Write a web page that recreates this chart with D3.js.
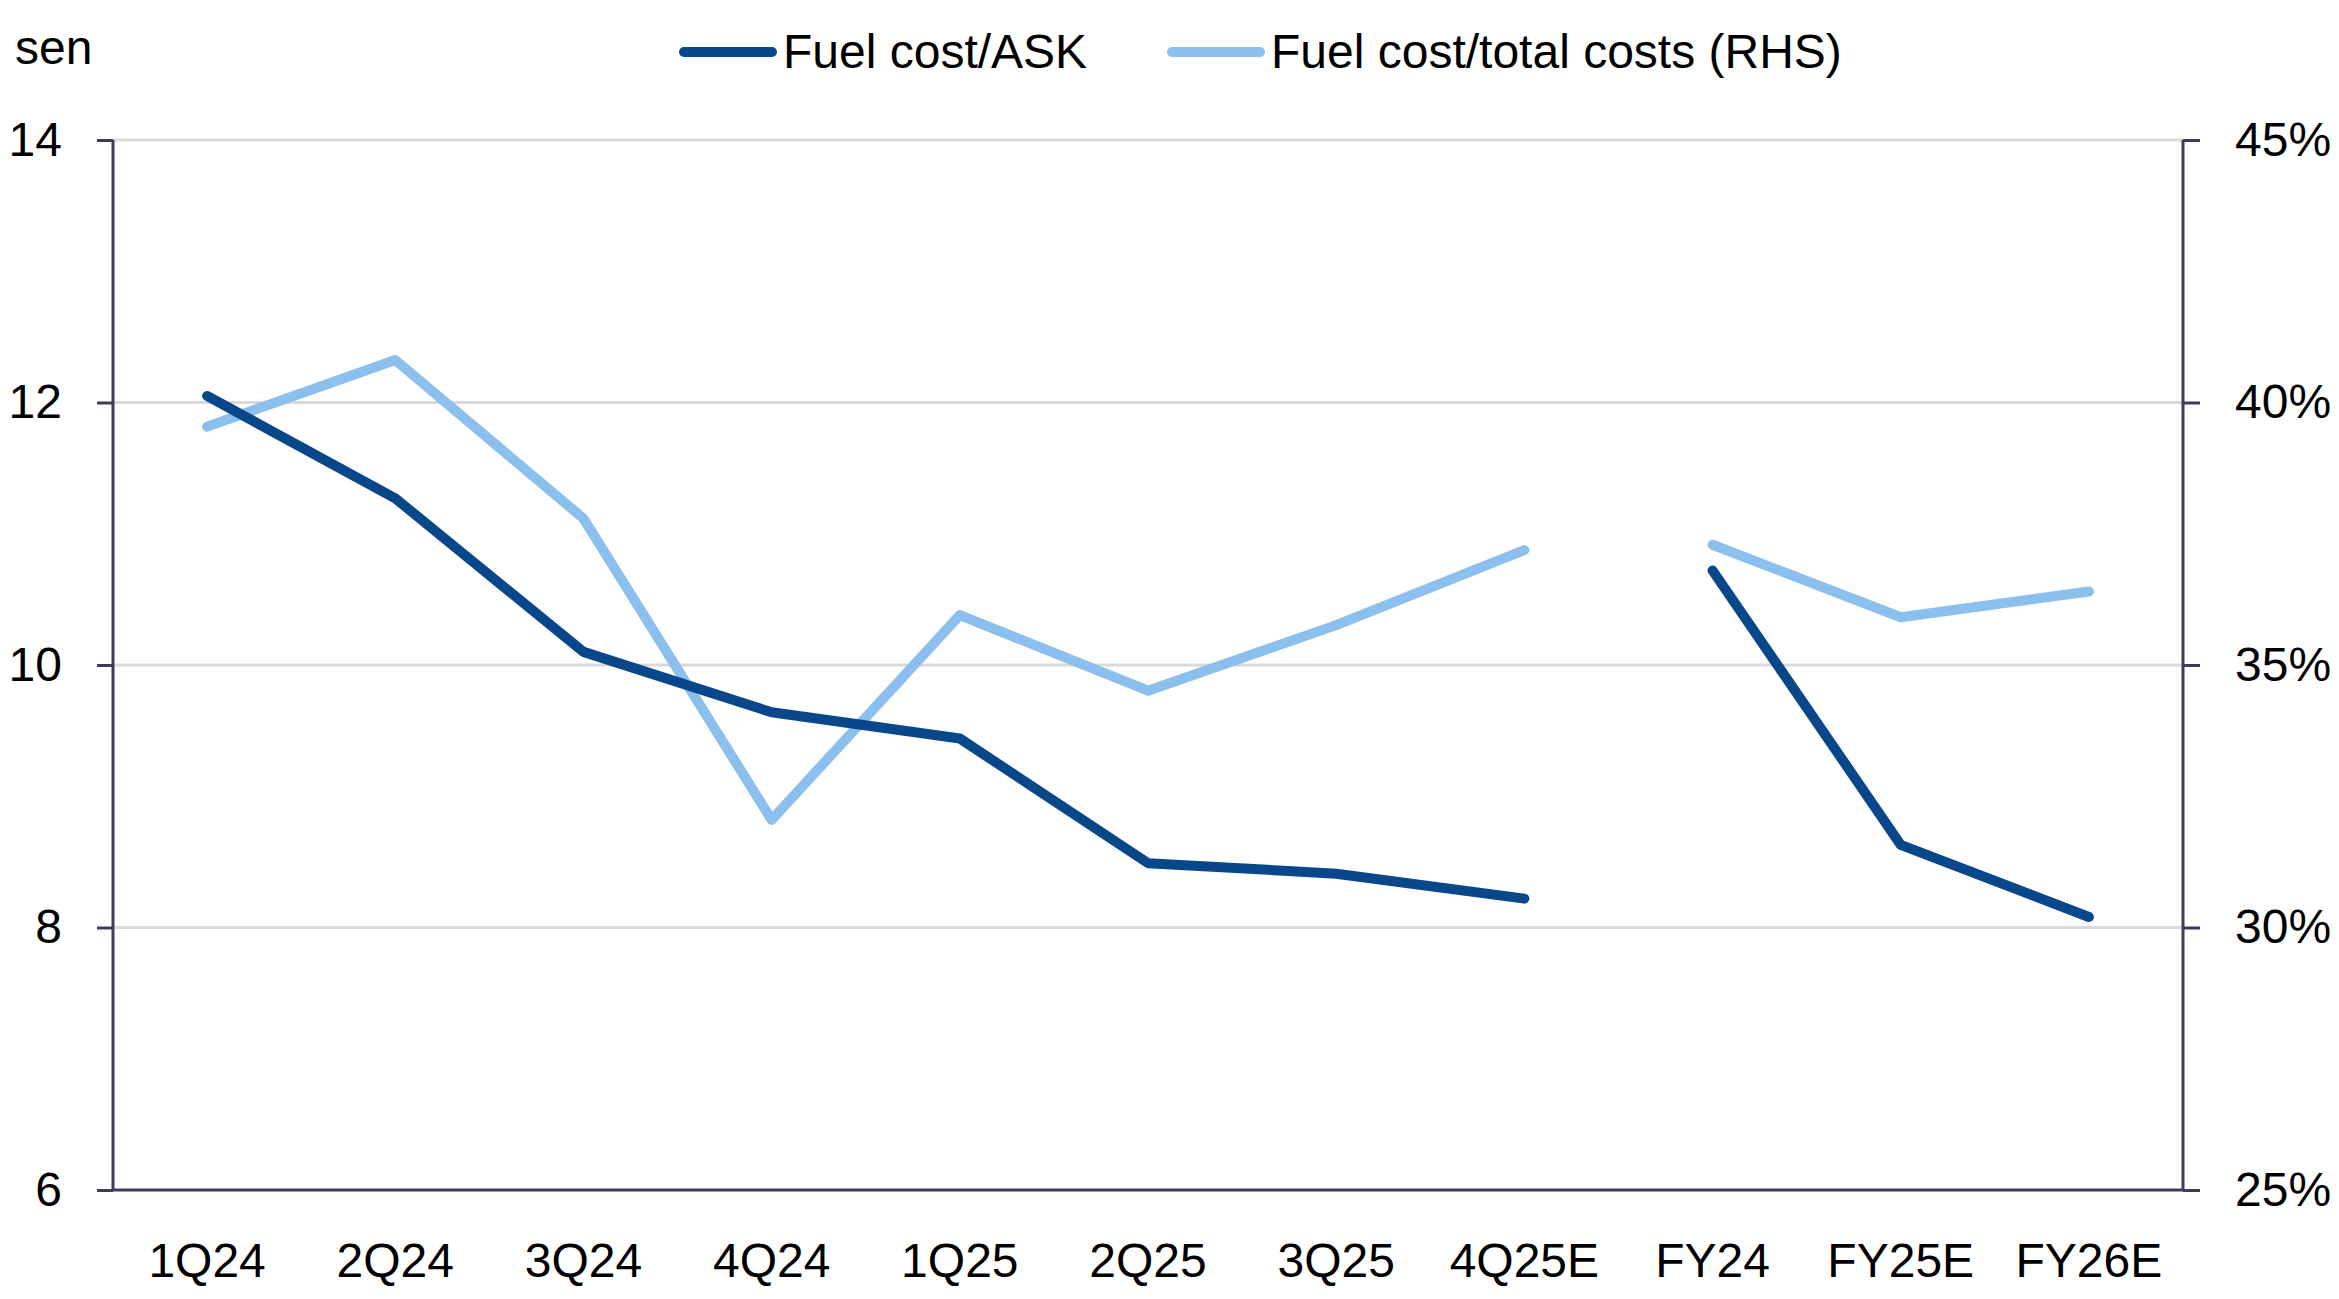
<!DOCTYPE html>
<html>
<head>
<meta charset="utf-8">
<script src="https://cdn.jsdelivr.net/npm/d3@7"></script>
<style>
  body { margin: 0; background: #fff; }
  text { font-family: "Liberation Sans", Arial, sans-serif; fill: #000; }
</style>
</head>
<body>
<svg id="chart" width="2339" height="1299"></svg>
<script>
// data
var categories = ["1Q24", "2Q24", "3Q24", "4Q24", "1Q25", "2Q25", "3Q25", "4Q25E", "FY24", "FY25E", "FY26E"];
var periodGroup = ["Q", "Q", "Q", "Q", "Q", "Q", "Q", "Q", "FY", "FY", "FY"];
var fuelPerAsk = [12.05, 11.27, 10.10, 9.64, 9.44, 8.49, 8.41, 8.22, 10.72, 8.63, 8.08];
var fuelShare = [39.54, 40.81, 37.79, 32.05, 35.95, 34.51, 35.76, 37.19, 37.29, 35.91, 36.40];
var leftTicks = [6, 8, 10, 12, 14];
var rightTicks = [25, 30, 35, 40, 45];
var seriesNames = ["Fuel cost/ASK", "Fuel cost/total costs (RHS)"];

var darkBlue = "#08488A";
var lightBlue = "#8BBFEE";
var axisColor = "#433A5A";
var gridColor = "#D9D9D9";
var fontSize = 48;
var lineWidth = 10;

// plot box (window.top is read-only, so keep these names distinct)
var plotLeft = 113, plotRight = 2183, plotTop = 140, plotBottom = 1190;

var svg = d3.select("#chart");

var x = d3.scaleBand().domain(categories).range([plotLeft, plotRight]).padding(0);
var yLeft = d3.scaleLinear().domain([6, 14]).range([plotBottom, plotTop]);
var yRight = d3.scaleLinear().domain([25, 45]).range([plotBottom, plotTop]);

// gridlines
svg.append("g").selectAll("line").data(leftTicks.slice(1)).enter().append("line")
  .attr("x1", plotLeft).attr("x2", plotRight)
  .attr("y1", function(d) { return yLeft(d); }).attr("y2", function(d) { return yLeft(d); })
  .attr("stroke", gridColor).attr("stroke-width", 3);

function styleAxis(g) {
  g.select(".domain").remove();
  g.selectAll(".tick line").attr("stroke", axisColor).attr("stroke-width", 3);
  g.selectAll(".tick text").attr("font-size", fontSize).attr("fill", "#000")
    .style("font-family", "'Liberation Sans', Arial, sans-serif");
}

var gl = svg.append("g").attr("transform", "translate(" + plotLeft + ",0)")
  .call(d3.axisLeft(yLeft).tickValues(leftTicks).tickSize(16).tickPadding(35).tickFormat(d3.format("d")));
styleAxis(gl);

var gr = svg.append("g").attr("transform", "translate(" + plotRight + ",0)")
  .call(d3.axisRight(yRight).tickValues(rightTicks).tickSize(17).tickPadding(35).tickFormat(function(d) { return d + "%"; }));
styleAxis(gr);

var gb = svg.append("g").attr("transform", "translate(0," + plotBottom + ")")
  .call(d3.axisBottom(x).tickSize(0).tickPadding(53));
styleAxis(gb);

// axis lines
svg.append("line").attr("x1", plotLeft).attr("x2", plotLeft).attr("y1", plotTop).attr("y2", plotBottom)
  .attr("stroke", axisColor).attr("stroke-width", 3);
svg.append("line").attr("x1", plotRight).attr("x2", plotRight).attr("y1", plotTop).attr("y2", plotBottom)
  .attr("stroke", axisColor).attr("stroke-width", 3);
svg.append("line").attr("x1", plotLeft).attr("x2", plotRight).attr("y1", plotBottom).attr("y2", plotBottom)
  .attr("stroke", axisColor).attr("stroke-width", 3);

// lines, broken between quarterly and annual periods
function drawSeries(values, scale, color) {
  var pts = categories.map(function(c, i) { return { c: c, v: values[i], g: periodGroup[i] }; });
  var groups = d3.groups(pts, function(d) { return d.g; });
  var line = d3.line()
    .x(function(d) { return x(d.c) + x.bandwidth() / 2; })
    .y(function(d) { return scale(d.v); });
  svg.append("g").selectAll("path").data(groups).enter().append("path")
    .attr("d", function(d) { return line(d[1]); })
    .attr("fill", "none").attr("stroke", color).attr("stroke-width", lineWidth)
    .attr("stroke-linecap", "round").attr("stroke-linejoin", "round");
}
drawSeries(fuelShare, yRight, lightBlue);
drawSeries(fuelPerAsk, yLeft, darkBlue);

// unit label
svg.append("text").attr("x", 15).attr("y", 64).attr("font-size", fontSize).text("sen");

// legend
var legendItems = [
  { name: seriesNames[0], color: darkBlue, x: 684 },
  { name: seriesNames[1], color: lightBlue, x: 1172 }
];
var lg = svg.append("g").selectAll("g").data(legendItems).enter().append("g")
  .attr("transform", function(d) { return "translate(" + d.x + ",52)"; });
lg.append("line").attr("x1", 0).attr("x2", 88).attr("y1", 0).attr("y2", 0)
  .attr("stroke", function(d) { return d.color; }).attr("stroke-width", lineWidth).attr("stroke-linecap", "round");
lg.append("text").attr("x", 99).attr("y", 16).attr("font-size", fontSize)
  .text(function(d) { return d.name; });
</script>
</body>
</html>
